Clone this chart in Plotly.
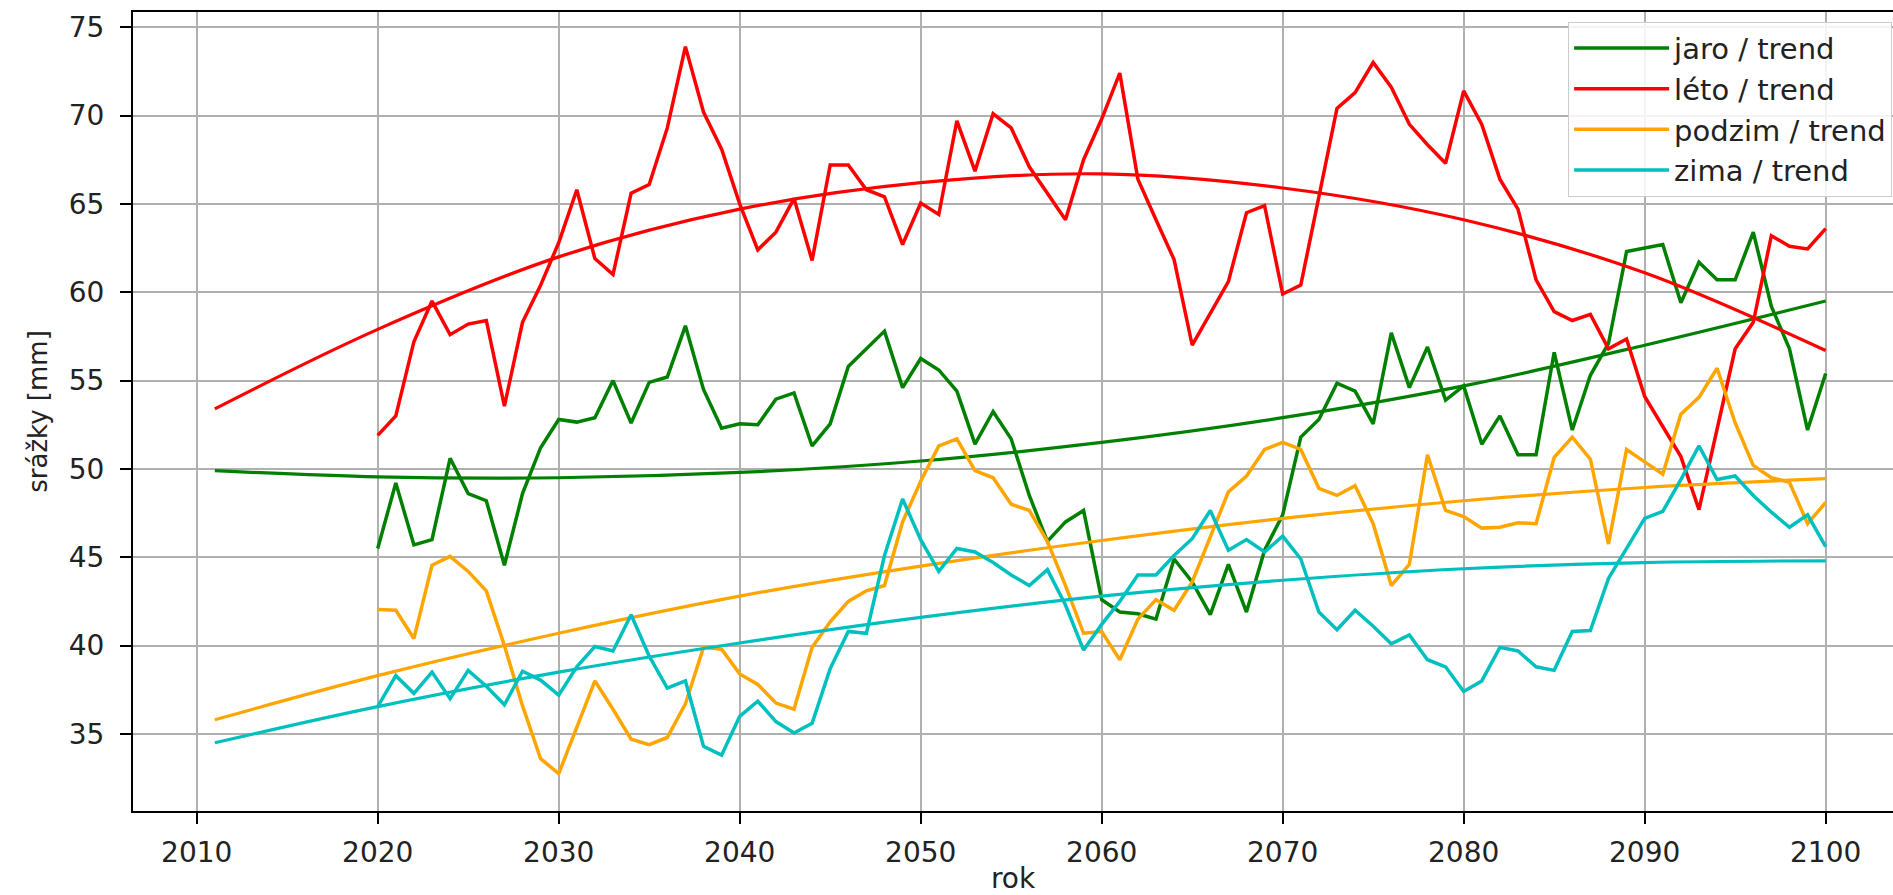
import plotly.graph_objects as go

years = list(range(2020, 2101))

jaro = [45.5, 49.2, 45.7, 46.0, 50.6, 48.6, 48.2, 44.55, 48.6, 51.2,
        52.8, 52.65, 52.9, 55.0, 52.6, 54.9, 55.2, 58.1, 54.5, 52.3,
        52.55, 52.5, 53.95, 54.3, 51.3, 52.55, 55.8, 56.8, 57.8, 54.6,
        56.25, 55.6, 54.4, 51.4, 53.25, 51.7, 48.5, 45.9, 47.0, 47.65,
        42.6, 41.9, 41.8, 41.5, 44.9, 43.6, 41.75, 44.6, 41.9, 45.4,
        47.4, 51.8, 52.8, 54.85, 54.4, 52.55, 57.7, 54.6, 56.9, 53.9,
        54.7, 51.4, 53.0, 50.8, 50.8, 56.6, 52.2, 55.3, 57.1, 62.3,
        62.5, 62.7, 59.4, 61.7, 60.7, 60.7, 63.4, 59.2, 56.8, 52.2,
        55.4]

leto = [51.9, 53.0, 57.2, 59.5, 57.6, 58.2, 58.4, 53.55, 58.3, 60.4,
        62.8, 65.8, 61.9, 61.0, 65.6, 66.1, 69.3, 73.9, 70.2, 68.1,
        65.0, 62.4, 63.4, 65.3, 61.8, 67.2, 67.2, 65.8, 65.4, 62.7,
        65.05, 64.4, 69.7, 66.85, 70.1, 69.3, 67.1, 65.6, 64.1, 67.5,
        69.8, 72.4, 66.4, 64.1, 61.85, 57.0, 58.8, 60.6, 64.5, 64.9,
        59.9, 60.4, 65.4, 70.4, 71.3, 73.0, 71.6, 69.5, 68.35, 67.3,
        71.4, 69.5, 66.4, 64.7, 60.7, 58.9, 58.4, 58.75, 56.8, 57.35,
        54.1, 52.4, 50.7, 47.7, 52.2, 56.8, 58.3, 63.2, 62.6, 62.45,
        63.6]

podzim = [42.05, 42.0, 40.4, 44.55, 45.05, 44.2, 43.1, 40.0, 36.6, 33.6,
          32.75, 35.4, 38.0, 36.4, 34.7, 34.4, 34.8, 36.7, 39.9, 39.8,
          38.4, 37.8, 36.75, 36.4, 39.9, 41.35, 42.5, 43.1, 43.4, 47.0,
          49.3, 51.3, 51.7, 49.9, 49.5, 48.0, 47.65, 45.9, 43.4, 40.7,
          40.8, 39.2, 41.5, 42.6, 42.0, 43.6, 46.2, 48.7, 49.6, 51.1,
          51.5, 51.1, 48.9, 48.5, 49.05, 46.9, 43.4, 44.6, 50.8, 47.65,
          47.3, 46.65, 46.7, 46.95, 46.9, 50.65, 51.8, 50.55, 45.75, 51.1,
          50.4, 49.7, 53.1, 54.05, 55.7, 52.6, 50.2, 49.5, 49.25, 46.9,
          48.1]

zima = [36.55, 38.3, 37.3, 38.5, 37.0, 38.6, 37.7, 36.65, 38.55, 38.05,
        37.2, 38.8, 39.95, 39.7, 41.75, 39.4, 37.6, 38.0, 34.3, 33.8,
        36.0, 36.85, 35.7, 35.05, 35.6, 38.7, 40.8, 40.7, 45.1, 48.3,
        46.0, 44.2, 45.5, 45.3, 44.7, 44.0, 43.4, 44.3, 42.3, 39.75,
        41.2, 42.5, 44.0, 44.0, 45.1, 46.05, 47.65, 45.4, 46.0, 45.3,
        46.2, 44.9, 41.9, 40.9, 42.0, 41.1, 40.1, 40.6, 39.2, 38.8,
        37.4, 38.0, 39.9, 39.7, 38.8, 38.6, 40.8, 40.85, 43.8, 45.5,
        47.2, 47.6, 49.4, 51.3, 49.4, 49.6, 48.5, 47.55, 46.7, 47.4,
        45.6]

trend_years = [2011, 2020, 2030, 2040, 2050, 2060, 2070, 2080, 2090, 2100]
jaro_trend = [49.9, 49.55, 49.5, 49.8, 50.45, 51.5, 52.9, 54.7, 57.0, 59.5]
leto_trend = [53.4, 57.9, 62.0, 64.7, 66.2, 66.7, 65.9, 64.1, 61.1, 56.7]
podzim_trend = [35.8, 38.3, 40.7, 42.8, 44.5, 45.95, 47.2, 48.2, 48.95, 49.45]
zima_trend = [34.5, 36.55, 38.5, 40.15, 41.6, 42.8, 43.7, 44.35, 44.7, 44.8]

names = ["jaro / trend", "léto / trend", "podzim / trend", "zima / trend"]
colors = ["#008000", "#ff0000", "#ffa500", "#00bfbf"]
series = [jaro, leto, podzim, zima]
trends = [jaro_trend, leto_trend, podzim_trend, zima_trend]

FONT = "DejaVu Sans"

fig = go.Figure()
for name, col, s, t in zip(names, colors, series, trends):
    fig.add_trace(go.Scatter(x=years, y=s, mode="lines", name=name,
                             line=dict(color=col, width=3.5)))
    fig.add_trace(go.Scatter(x=trend_years, y=t, mode="lines", name=name,
                             line=dict(color=col, width=3.2, shape="spline"),
                             showlegend=False))

fig.update_layout(
    width=1893, height=895,
    margin=dict(l=133, r=0, t=12, b=84),
    paper_bgcolor="white", plot_bgcolor="white",
    font=dict(family=FONT, size=28, color="#222222"),
    showlegend=True,
    legend=dict(x=0.9995, y=0.988, xanchor="right", yanchor="top",
                bgcolor="rgba(255,255,255,0.85)", bordercolor="#cccccc",
                borderwidth=1, font=dict(family=FONT, size=29, color="#222222"),
                tracegroupgap=0, itemwidth=95),
    xaxis=dict(range=[2006.48, 2103.72], tickvals=list(range(2010, 2101, 10)),
               ticks="outside", ticklen=11, tickwidth=2, tickcolor="black",
               showline=True, linecolor="black", linewidth=2, mirror=True,
               showgrid=True, gridcolor="#b0b0b0", gridwidth=2,
               zeroline=False, ticklabelstandoff=4,
               title=dict(text="rok", font=dict(family=FONT, size=28), standoff=4)),
    yaxis=dict(range=[30.64, 75.86], tickvals=list(range(35, 76, 5)),
               ticks="outside", ticklen=11, tickwidth=2, tickcolor="black",
               showline=True, linecolor="black", linewidth=2, mirror=False,
               showgrid=True, gridcolor="#b0b0b0", gridwidth=2,
               zeroline=False, ticklabelstandoff=10,
               title=dict(text="srážky [mm]", font=dict(family=FONT, size=26), standoff=14)),
)

fig.write_html("out.html", config={"displayModeBar": False},
               post_script="document.body.style.margin='0px';document.body.style.overflow='hidden';")
